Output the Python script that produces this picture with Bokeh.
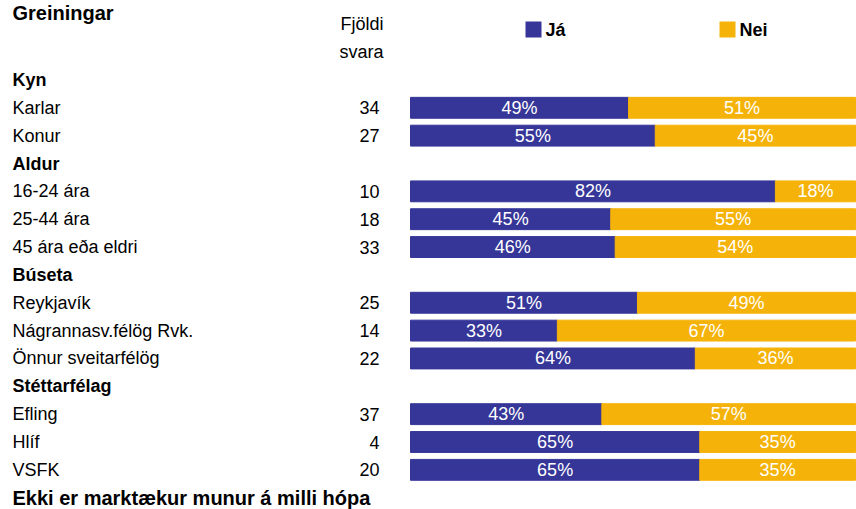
from bokeh.plotting import figure
from bokeh.models import Range1d, ColumnDataSource
from bokeh.core.properties import value
from bokeh.embed import file_html
from bokeh.resources import INLINE

# ---- data ----
title = "Greiningar"
groups = ["Kyn", "Aldur", "Búseta", "Stéttarfélag"]
group_rows = [
    ["Karlar", "Konur"],
    ["16-24 ára", "25-44 ára", "45 ára eða eldri"],
    ["Reykjavík", "Nágrannasv.félög Rvk.", "Önnur sveitarfélög"],
    ["Efling", "Hlíf", "VSFK"],
]
counts = [34, 27, 10, 18, 33, 25, 14, 22, 37, 4, 20]
ja = [49, 55, 82, 45, 46, 51, 33, 64, 43, 65, 65]
nei = [51, 45, 18, 55, 54, 49, 67, 36, 57, 35, 35]
series_names = ["Já", "Nei"]
colors = ["#363699", "#F5B30A"]
count_header = ["Fjöldi", "svara"]
footnote = "Ekki er marktækur munur á milli hópa"

FONT = "Liberation Sans"
W, H = 856, 509

# layout (pixel based mapping)
bar_left_px, bar_right_px = 410, 855
sx = (bar_right_px - bar_left_px) / 100.0
row0_px, pitch = 79.45, 27.85

def xd(px):
    return (px - bar_left_px) / sx

def yd(px):
    return (px - row0_px) / pitch

# build row structure
labels, ys, header_labels, header_ys = [], [], [], []
r = 0
for g, rows in zip(groups, group_rows):
    header_labels.append(g)
    header_ys.append(r)
    r += 1
    for lab in rows:
        labels.append(lab)
        ys.append(r)
        r += 1
foot_y = r

p = figure(width=W, height=H, output_backend="svg", toolbar_location=None,
           x_range=Range1d(xd(0), xd(W)), y_range=Range1d(yd(H), yd(0)),
           min_border=0, outline_line_color=None)
p.axis.visible = False
p.grid.visible = False
p.background_fill_color = "white"
p.border_fill_color = "white"

src = ColumnDataSource(dict(
    y=ys, ja=ja, nei=nei, total=[a + b for a, b in zip(ja, nei)],
    ja_mid=[a / 2 for a in ja], nei_mid=[a + b / 2 for a, b in zip(ja, nei)],
    ja_lab=[f"{v}%" for v in ja], nei_lab=[f"{v}%" for v in nei],
    lab=labels, cnt=[str(c) for c in counts],
    lx=[xd(12)] * len(ys), cx=[xd(379)] * len(ys),
))

bh = 0.75
p.hbar(y="y", left=0, right="ja", height=bh, color=colors[0], source=src)
p.hbar(y="y", left="ja", right="total", height=bh, color=colors[1], source=src)

common = dict(text_font=value(FONT), text_baseline="middle")
p.text(x="ja_mid", y="y", text="ja_lab", text_color="white", text_align="center",
       text_font_size="18px", source=src, **common)
p.text(x="nei_mid", y="y", text="nei_lab", text_color="white", text_align="center",
       text_font_size="18px", source=src, **common)

p.text(x="lx", y="y", text="lab", text_color="black", text_align="left",
       text_font_size="18px", source=src, **common)
p.text(x="cx", y="y", text="cnt", text_color="black", text_align="right",
       text_font_size="18px", source=src, **common)

p.text(x=[xd(12)] * len(header_ys), y=header_ys, text=header_labels, text_color="black",
       text_align="left", text_font_size="18px", text_font_style="bold", **common)
p.text(x=[xd(12)], y=[foot_y], text=[footnote], text_color="black",
       text_align="left", text_font_size="20px", text_font_style="bold", **common)

p.text(x=[xd(383)] * 2, y=[-2, -1], text=count_header, text_color="black",
       text_align="right", text_font_size="18px", **common)

p.text(x=[xd(12)], y=[yd(1)], text=[title], text_color="black", text_align="left",
       text_baseline="top", text_font=value(FONT), text_font_size="20px",
       text_font_style="bold")

# legend
leg_x_px = [533, 727]
leg_y = yd(29)
p.rect(x=[xd(v) for v in leg_x_px], y=[leg_y] * 2, width=16, height=16,
       width_units="screen", height_units="screen", color=colors, line_color=None)
p.text(x=[xd(v + 12) for v in leg_x_px], y=[leg_y] * 2, text=series_names,
       text_color="black", text_align="left", text_font_size="18px",
       text_font_style="bold", **common)

open("out.html", "w").write(file_html(p, INLINE))
